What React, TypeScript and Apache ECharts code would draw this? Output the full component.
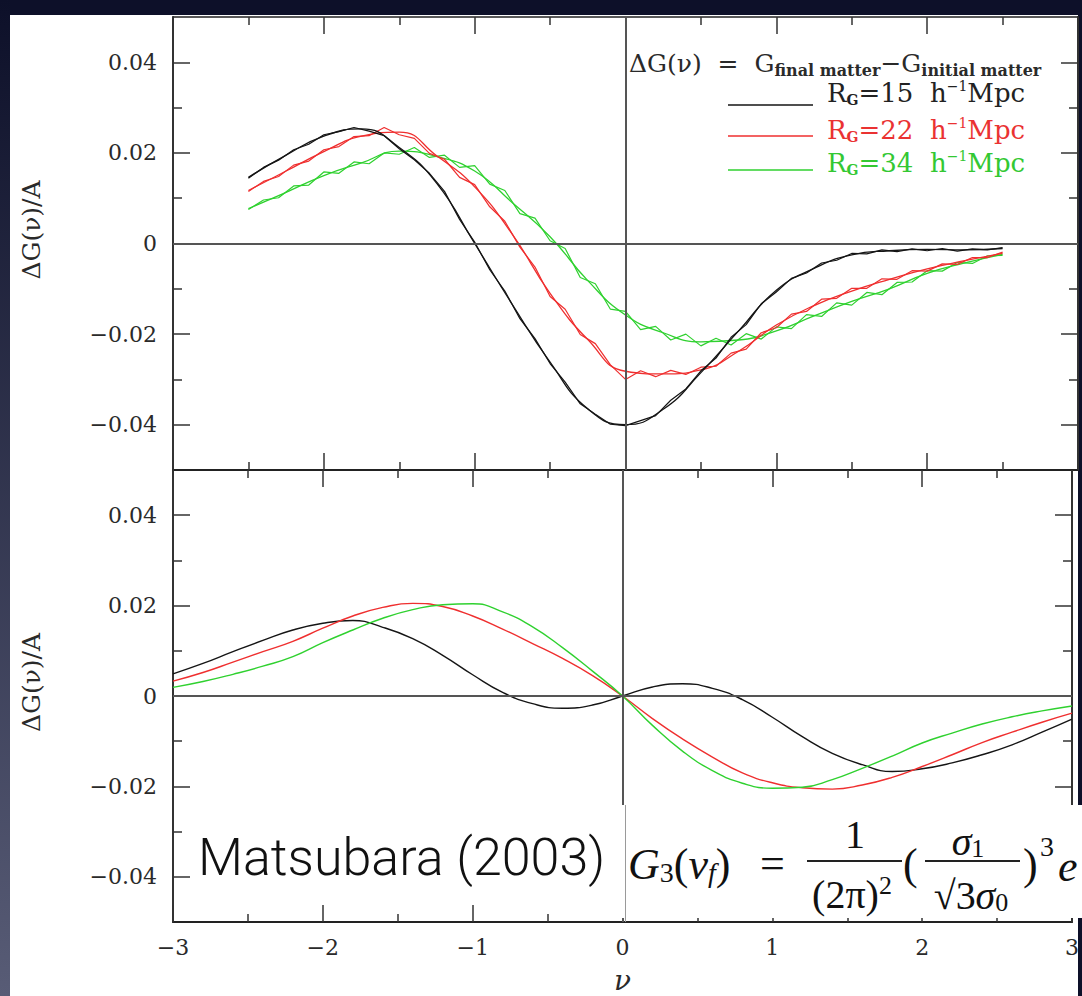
import React, { useEffect, useRef } from "react";
import * as echarts from "echarts";

// ---------- top panel: simulation (noisy) curves ----------
const nuSim = [-2.5, -2.4, -2.3, -2.2, -2.1, -2.0, -1.9, -1.8, -1.7, -1.6, -1.5, -1.4, -1.3, -1.2, -1.1, -1.0, -0.9, -0.8, -0.7, -0.6, -0.5, -0.4, -0.3, -0.2, -0.1, 0, 0.1, 0.2, 0.3, 0.4, 0.5, 0.6, 0.7, 0.8, 0.9, 1.0, 1.1, 1.2, 1.3, 1.4, 1.5, 1.6, 1.7, 1.8, 1.9, 2.0, 2.1, 2.2, 2.3, 2.4, 2.5];
const blackSim = [0.0144, 0.0168, 0.0184, 0.0207, 0.0219, 0.0240, 0.0247, 0.0256, 0.0248, 0.0238, 0.0209, 0.0185, 0.0155, 0.0115, 0.0053, 0.0003, -0.0058, -0.0105, -0.0166, -0.0210, -0.0265, -0.0306, -0.0354, -0.0377, -0.0399, -0.0402, -0.0391, -0.0380, -0.0346, -0.0321, -0.0281, -0.0253, -0.0207, -0.0179, -0.0133, -0.0107, -0.0077, -0.0065, -0.0043, -0.0037, -0.0022, -0.0023, -0.0014, -0.0018, -0.0012, -0.0016, -0.0011, -0.0017, -0.0012, -0.0014, -0.0009];
const redSim = [0.0115, 0.0137, 0.0148, 0.0173, 0.0182, 0.0207, 0.0214, 0.0236, 0.0238, 0.0256, 0.0240, 0.0232, 0.0199, 0.0186, 0.0146, 0.0130, 0.0081, 0.0049, -0.0008, -0.0052, -0.0117, -0.0145, -0.0201, -0.0221, -0.0268, -0.0300, -0.0281, -0.0294, -0.0280, -0.0289, -0.0273, -0.0271, -0.0242, -0.0233, -0.0197, -0.0186, -0.0156, -0.0150, -0.0123, -0.0121, -0.0099, -0.0099, -0.0078, -0.0079, -0.0060, -0.0061, -0.0045, -0.0046, -0.0031, -0.0031, -0.0019];
const greenSim = [0.0075, 0.0096, 0.0101, 0.0127, 0.0129, 0.0158, 0.0155, 0.0180, 0.0176, 0.0200, 0.0197, 0.0212, 0.0190, 0.0195, 0.0168, 0.0172, 0.0131, 0.0117, 0.0066, 0.0056, 0.0006, -0.0011, -0.0075, -0.0089, -0.0145, -0.0150, -0.0190, -0.0183, -0.0213, -0.0200, -0.0226, -0.0209, -0.0224, -0.0199, -0.0211, -0.0184, -0.0188, -0.0157, -0.0161, -0.0131, -0.0136, -0.0108, -0.0113, -0.0086, -0.0085, -0.0060, -0.0061, -0.0042, -0.0044, -0.0027, -0.0026];

// ---------- top panel: fitted (smooth) curves ----------
const nuFit = [-2.5, -2.25, -2, -1.75, -1.5, -1.25, -1, -0.75, -0.5, -0.25, 0, 0.25, 0.5, 0.75, 1, 1.25, 1.5, 1.75, 2, 2.25, 2.5];
const blackFit = [0.0146, 0.0195, 0.0237, 0.0253, 0.0212, 0.0132, 0.0000, -0.0135, -0.0262, -0.0365, -0.0400, -0.0366, -0.0285, -0.0193, -0.0103, -0.0055, -0.0025, -0.0016, -0.0013, -0.0014, -0.0011];
const redFit = [0.0117, 0.0160, 0.0203, 0.0237, 0.0246, 0.0193, 0.0125, 0.0020, -0.0110, -0.0212, -0.0282, -0.0288, -0.0279, -0.0238, -0.0180, -0.0137, -0.0105, -0.0079, -0.0056, -0.0038, -0.0022];
const greenFit = [0.0077, 0.0113, 0.0150, 0.0178, 0.0204, 0.0192, 0.0160, 0.0090, 0.0015, -0.0082, -0.0158, -0.0197, -0.0217, -0.0213, -0.0193, -0.0160, -0.0128, -0.0100, -0.0066, -0.0043, -0.0024];

// ---------- bottom panel: perturbation theory ----------
const nuTheory = [-3, -2.8, -2.6, -2.4, -2.2, -2, -1.8, -1.6, -1.4, -1.2, -1, -0.8, -0.6, -0.4, -0.2, 0, 0.2, 0.4, 0.6, 0.8, 1, 1.2, 1.4, 1.6, 1.8, 2, 2.2, 2.4, 2.6, 2.8, 3];
const blackTheory = [0.0049, 0.0072, 0.0098, 0.0123, 0.0146, 0.0161, 0.0167, 0.0152, 0.0127, 0.0090, 0.0047, 0.0008, -0.0017, -0.0027, -0.0020, 0, 0.0020, 0.0027, 0.0017, -0.0008, -0.0047, -0.0090, -0.0127, -0.0152, -0.0167, -0.0161, -0.0148, -0.0130, -0.0108, -0.0080, -0.0051];
const redTheory = [0.0033, 0.0052, 0.0075, 0.0098, 0.0121, 0.0150, 0.0177, 0.0196, 0.0205, 0.0198, 0.0177, 0.0148, 0.0116, 0.0083, 0.0045, 0, -0.0050, -0.0095, -0.0135, -0.0170, -0.0192, -0.0203, -0.0206, -0.0197, -0.0180, -0.0156, -0.0130, -0.0103, -0.0080, -0.0058, -0.0038];
const greenTheory = [0.0019, 0.0032, 0.0048, 0.0066, 0.0087, 0.0118, 0.0146, 0.0172, 0.0191, 0.0202, 0.0204, 0.0186, 0.0153, 0.0107, 0.0055, 0, -0.0065, -0.0122, -0.0165, -0.0193, -0.0204, -0.0202, -0.0185, -0.0160, -0.0133, -0.0104, -0.0082, -0.0062, -0.0046, -0.0033, -0.0022];

// ---------- ticks / labels ----------
const yMajorTicks = [-0.04, -0.02, 0, 0.02, 0.04];
const yMinorTicks = [-0.03, -0.01, 0.01, 0.03];
const radii = ["15", "22", "34"];
const yTitle = "ΔG(ν)/A";
const xTitle = "ν";

const C_BLACK = "#151515";
const C_RED = "#ef2f2f";
const C_GREEN = "#2fd12f";
const AXIS = "#333333";
const TEXT = "#2a2a2a";
const SERIF = "'DejaVu Serif', 'Liberation Serif', serif";
const TIMES = "'Liberation Serif', 'DejaVu Serif', serif";

const pair = (xs: number[], ys: number[]) => xs.map((x, i) => [x, ys[i]]);
const fmtY = (v: number) => (Math.abs(v) < 1e-9 ? "0" : (v < 0 ? "\u2212" : "") + Math.abs(v).toFixed(2));
const fmtX = (v: number) => (Math.abs(v) < 1e-9 ? "0" : (v < 0 ? "\u2212" : "") + String(Math.abs(v)));

function yAxes(gridIndex: number, position: string, labels: boolean) {
  const base: any = {
    type: "value", gridIndex, position, min: -0.05, max: 0.05,
    splitLine: { show: false }, silent: true,
  };
  const major: any = {
    ...base,
    axisLine: { show: true, onZero: false, lineStyle: { color: AXIS, width: 2 } },
    axisTick: { show: true, inside: true, length: 17, customValues: yMajorTicks, lineStyle: { color: AXIS, width: 1.5 } },
    axisLabel: {
      show: labels, customValues: yMajorTicks, formatter: fmtY, margin: 16,
      fontFamily: SERIF, fontSize: 22, color: TEXT,
    },
  };
  if (labels) {
    major.name = yTitle;
    major.nameLocation = "middle";
    major.nameGap = 129;
    major.nameTextStyle = { fontFamily: SERIF, fontSize: 25, color: TEXT, padding: [0, 0, 0, 27] };
  }
  const minor: any = {
    ...base,
    axisLine: { show: false, onZero: false },
    axisTick: { show: true, inside: true, length: 9, customValues: yMinorTicks, lineStyle: { color: AXIS, width: 1.5 } },
    axisLabel: { show: false },
  };
  return [major, minor];
}

function xAxis(gridIndex: number, position: string, labels: boolean, lineWidth: number) {
  const ax: any = {
    type: "value", gridIndex, position, min: -3, max: 3, interval: 1,
    splitLine: { show: false }, silent: true,
    axisLine: { show: true, onZero: false, lineStyle: { color: "#222", width: lineWidth } },
    axisTick: { show: true, inside: true, length: 17, lineStyle: { color: AXIS, width: 1.5 } },
    minorTick: { show: true, splitNumber: 2, length: 8, lineStyle: { color: AXIS, width: 1.5 } },
    axisLabel: {
      show: labels, formatter: fmtX, margin: 14, fontFamily: SERIF, fontSize: 22, color: TEXT,
      showMinLabel: true, showMaxLabel: true,
    },
  };
  if (labels) {
    ax.name = xTitle;
    ax.nameLocation = "middle";
    ax.nameGap = 44;
    ax.nameTextStyle = { fontFamily: SERIF, fontStyle: "italic", fontSize: 28, color: TEXT };
  }
  return ax;
}

function line(name: string, xi: number, yi: number, data: number[][], color: string, smooth: boolean, width: number) {
  return {
    type: "line", name, xAxisIndex: xi, yAxisIndex: yi, data, smooth,
    symbol: "none", silent: true, lineStyle: { color, width }, itemStyle: { color }, z: 3,
  };
}

const zeroLines = {
  silent: true, symbol: ["none", "none"], label: { show: false },
  lineStyle: { color: "#555", width: 2, type: "solid" },
  emphasis: { disabled: true },
  data: [{ yAxis: 0 }, { xAxis: 0 }],
};

export default function App() {
  const ref = useRef<HTMLDivElement>(null);

  useEffect(() => {
    if (!ref.current) return;
    const chart = echarts.init(ref.current, undefined, { renderer: "svg" });

    const legendColors = [C_BLACK, C_RED, C_GREEN];
    const legendText = ["#222222", "#ea3232", "#33c833"];
    const legendTextY = [93, 130, 163];
    const legendLineY = [105, 136, 170];

    const legendEls: any[] = [];
    radii.forEach((r, i) => {
      legendEls.push({
        type: "line", z: 50,
        shape: { x1: 728, y1: legendLineY[i], x2: 813, y2: legendLineY[i] },
        style: { stroke: legendColors[i], lineWidth: 1.5 },
      });
      legendEls.push({
        type: "text", z: 50, x: 827, y: legendTextY[i],
        style: {
          text: `{r|R}{s|G}{r|=${r}  h}{p|\u22121}{r|Mpc}`,
          verticalAlign: "middle", align: "left",
          rich: {
            r: { fontFamily: SERIF, fontSize: 26, fill: legendText[i] },
            s: { fontFamily: SERIF, fontSize: 14, fontWeight: "bold", fill: legendText[i], padding: [14, 0, 0, 0] },
            p: { fontFamily: SERIF, fontSize: 14, fill: legendText[i], padding: [0, 0, 14, 0] },
          },
        },
      });
    });

    const F = "#111";
    const formulaEls: any[] = [
      { type: "rect", z: 100, shape: { x: 619, y: 805, width: 463, height: 113 }, style: { fill: "#ffffff" } },
      { type: "line", z: 101, shape: { x1: 625.5, y1: 805, x2: 625.5, y2: 922 }, style: { stroke: "#9a9a9a", lineWidth: 1 } },
      {
        type: "text", z: 101, x: 628, y: 864,
        style: {
          text: "{i|G}{sb|3}{n|(}{i|ν}{isb|f}{n|)}", verticalAlign: "middle", align: "left",
          rich: {
            i: { fontFamily: TIMES, fontStyle: "italic", fontSize: 44, fill: F },
            n: { fontFamily: TIMES, fontSize: 44, fill: F },
            sb: { fontFamily: TIMES, fontSize: 28, fill: F, padding: [16, 0, 0, 0] },
            isb: { fontFamily: TIMES, fontStyle: "italic", fontSize: 28, fill: F, padding: [16, 0, 0, 0] },
          },
        },
      },
      { type: "text", z: 101, x: 760, y: 863, style: { text: "=", fontFamily: TIMES, fontSize: 44, fill: F, align: "left", verticalAlign: "middle" } },
      { type: "text", z: 101, x: 855, y: 834, style: { text: "1", fontFamily: TIMES, fontSize: 40, fill: F, align: "center", verticalAlign: "middle" } },
      { type: "line", z: 101, shape: { x1: 807, y1: 861, x2: 902, y2: 861 }, style: { stroke: "#222", lineWidth: 2 } },
      {
        type: "text", z: 101, x: 852, y: 894,
        style: {
          text: "{n|(2π)}{sp|2}", align: "center", verticalAlign: "middle",
          rich: {
            n: { fontFamily: TIMES, fontSize: 40, fill: F },
            sp: { fontFamily: TIMES, fontSize: 26, fill: F, padding: [0, 0, 18, 0] },
          },
        },
      },
      { type: "text", z: 101, x: 903, y: 864, style: { text: "(", fontFamily: TIMES, fontSize: 44, fill: F, align: "left", verticalAlign: "middle" } },
      {
        type: "text", z: 101, x: 968, y: 841,
        style: {
          text: "{i|σ}{sb|1}", align: "center", verticalAlign: "middle",
          rich: {
            i: { fontFamily: TIMES, fontStyle: "italic", fontSize: 40, fill: F },
            sb: { fontFamily: TIMES, fontSize: 26, fill: F, padding: [14, 0, 0, 0] },
          },
        },
      },
      { type: "line", z: 101, shape: { x1: 925, y1: 861, x2: 1020, y2: 861 }, style: { stroke: "#222", lineWidth: 2 } },
      {
        type: "text", z: 101, x: 971, y: 895,
        style: {
          text: "{n|√3}{i|σ}{sb|0}", align: "center", verticalAlign: "middle",
          rich: {
            n: { fontFamily: TIMES, fontSize: 40, fill: F },
            i: { fontFamily: TIMES, fontStyle: "italic", fontSize: 40, fill: F },
            sb: { fontFamily: TIMES, fontSize: 26, fill: F, padding: [14, 0, 0, 0] },
          },
        },
      },
      { type: "text", z: 101, x: 1023, y: 864, style: { text: ")", fontFamily: TIMES, fontSize: 44, fill: F, align: "left", verticalAlign: "middle" } },
      { type: "text", z: 101, x: 1040, y: 846, style: { text: "3", fontFamily: TIMES, fontSize: 28, fill: F, align: "left", verticalAlign: "middle" } },
      { type: "text", z: 101, x: 1058, y: 866, style: { text: "e", fontFamily: TIMES, fontStyle: "italic", fontSize: 44, fill: F, align: "left", verticalAlign: "middle" } },
    ];

    const option: any = {
      animation: false,
      backgroundColor: "#0d1029",
      grid: [
        { left: 173, top: 17, width: 905, height: 453, containLabel: false },
        { left: 173, top: 470, width: 905, height: 452, containLabel: false },
      ],
      xAxis: [
        xAxis(0, "bottom", false, 2),
        xAxis(0, "top", false, 1.5),
        xAxis(1, "top", false, 2),
        xAxis(1, "bottom", true, 2),
      ],
      yAxis: [
        ...yAxes(0, "left", true),
        ...yAxes(0, "right", false),
        ...yAxes(1, "left", true),
        ...yAxes(1, "right", false),
      ],
      series: [
        { ...line("sim34", 0, 0, pair(nuSim, greenSim), C_GREEN, false, 1.2), markLine: zeroLines },
        line("fit34", 0, 0, pair(nuFit, greenFit), C_GREEN, true, 1.3),
        line("sim22", 0, 0, pair(nuSim, redSim), C_RED, false, 1.2),
        line("fit22", 0, 0, pair(nuFit, redFit), C_RED, true, 1.3),
        line("sim15", 0, 0, pair(nuSim, blackSim), C_BLACK, false, 1.2),
        line("fit15", 0, 0, pair(nuFit, blackFit), C_BLACK, true, 1.3),
        { ...line("th15", 3, 4, pair(nuTheory, blackTheory), C_BLACK, true, 1.4), markLine: zeroLines },
        line("th22", 3, 4, pair(nuTheory, redTheory), C_RED, true, 1.4),
        line("th34", 3, 4, pair(nuTheory, greenTheory), C_GREEN, true, 1.4),
      ],
      graphic: {
        elements: [
          { type: "rect", z: -100, shape: { x: 0, y: 0, width: 1082, height: 996 }, style: { fill: "#0d1029" } },
          {
            type: "rect", z: -99, shape: { x: 0, y: 0, width: 10, height: 996 },
            style: {
              fill: {
                type: "linear", x: 0, y: 0, x2: 0, y2: 1,
                colorStops: [{ offset: 0, color: "#0d1029" }, { offset: 1, color: "#585c76" }],
              },
            },
          },
          { type: "rect", z: -98, shape: { x: 10, y: 15, width: 1068, height: 981 }, style: { fill: "#ffffff" } },
          {
            type: "text", z: 50, x: 629, y: 63,
            style: {
              text: "{m|ΔG(ν)  =  G}{s|final matter}{m|\u2212G}{s|initial matter}",
              align: "left", verticalAlign: "middle",
              rich: {
                m: { fontFamily: SERIF, fontSize: 25, fill: TEXT },
                s: { fontFamily: SERIF, fontSize: 16, fontWeight: "bold", fill: TEXT, padding: [14, 0, 0, 0] },
              },
            },
          },
          ...legendEls,
          {
            type: "text", z: 101, x: 198, y: 857,
            style: {
              text: "Matsubara (2003)", fontFamily: "Roboto, 'Liberation Sans', sans-serif",
              fontWeight: 300, fontSize: 52, fill: "#111", align: "left", verticalAlign: "middle",
            },
          },
          ...formulaEls,
        ],
      },
    };

    chart.setOption(option);
    return () => chart.dispose();
  }, []);

  return (
    <div
      ref={ref}
      style={{ position: "fixed", left: 0, top: 0, width: 1082, height: 996 }}
    />
  );
}
